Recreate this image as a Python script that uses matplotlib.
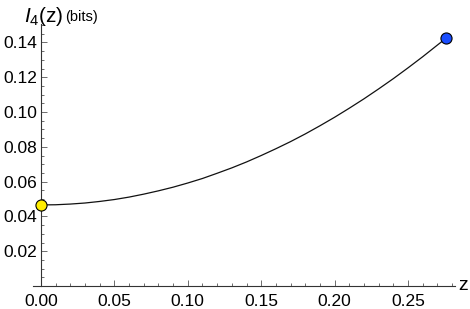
import matplotlib.pyplot as plt
from matplotlib.ticker import MultipleLocator, FormatStrFormatter

# values
z = [0.0, 0.01, 0.02, 0.03, 0.04, 0.05, 0.06, 0.07, 0.08, 0.09, 0.10, 0.11, 0.12, 0.13,
     0.14, 0.15, 0.16, 0.17, 0.18, 0.19, 0.20, 0.21, 0.22, 0.23, 0.24, 0.25, 0.26, 0.27, 0.276]
info = [0.0466, 0.0467, 0.0471, 0.0477, 0.0486, 0.0497, 0.0511, 0.0528, 0.0547, 0.0568,
        0.0592, 0.0618, 0.0648, 0.0679, 0.0713, 0.0750, 0.0789, 0.0830, 0.0874, 0.0921,
        0.0970, 0.1022, 0.1076, 0.1133, 0.1192, 0.1254, 0.1318, 0.1385, 0.1425]

start_pt = (z[0], info[0])
end_pt = (z[-1], info[-1])

plt.rcParams['font.family'] = ['Liberation Sans', 'DejaVu Sans']
plt.rcParams['mathtext.fontset'] = 'custom'
plt.rcParams['mathtext.rm'] = 'Liberation Sans'
plt.rcParams['mathtext.it'] = 'Liberation Sans:italic'

fig = plt.figure(figsize=(4.7, 3.09), dpi=100)
ax = fig.add_axes([0.0702, 0.0744, 0.898, 0.848])

ax.plot(z, info, color='#111111', lw=0.9)
ax.plot(*start_pt, 'o', ms=8, mfc='#ffee00', mec='black', mew=0.8, clip_on=False, zorder=5)
ax.plot(*end_pt, 'o', ms=8, mfc='#1a4dff', mec='black', mew=0.8, clip_on=False, zorder=5)

ax.set_xlim(-0.0054, 0.282)
ax.set_ylim(0, 0.1506)

ax.spines['right'].set_visible(False)
ax.spines['top'].set_visible(False)
ax.spines['left'].set_position(('data', 0))
for s in ('left', 'bottom'):
    ax.spines[s].set_linewidth(0.8)
    ax.spines[s].set_color('#333333')

ax.xaxis.set_major_locator(MultipleLocator(0.05))
ax.xaxis.set_minor_locator(MultipleLocator(0.01))
ax.yaxis.set_major_locator(MultipleLocator(0.02))
ax.yaxis.set_minor_locator(MultipleLocator(0.005))
ax.xaxis.set_major_formatter(FormatStrFormatter('%.2f'))
ax.yaxis.set_major_formatter(FormatStrFormatter('%.2f'))
ax.set_yticks([0.02, 0.04, 0.06, 0.08, 0.10, 0.12, 0.14])

ax.tick_params(which='both', direction='in', color='#555555', width=0.6, labelsize=12.5)
ax.tick_params(which='major', length=4)
ax.tick_params(which='minor', length=2)
ax.tick_params(axis='x', pad=6)
ax.tick_params(axis='y', pad=3)

fig.text(0.051, 0.948, r'$I_4$(z)', fontsize=15, ha='left', va='center')
fig.text(0.139, 0.945, '(bits)', fontsize=10.5, ha='left', va='center')
fig.text(0.975, 0.075, 'z', fontsize=14, ha='left', va='center')

fig.savefig('out.png', dpi=100)
